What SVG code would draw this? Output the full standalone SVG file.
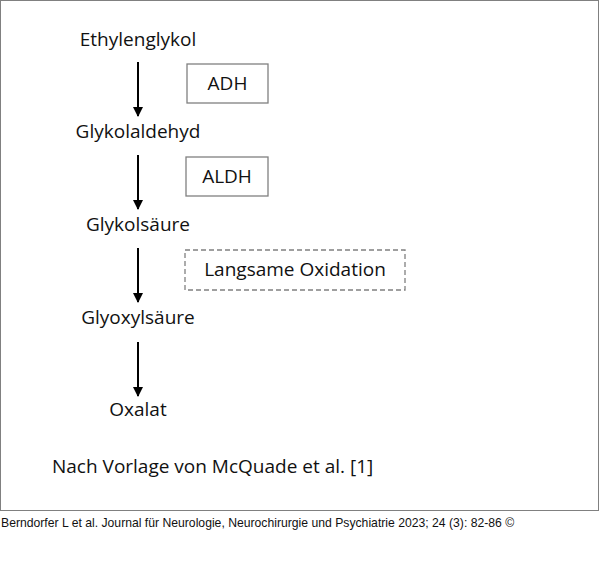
<svg xmlns="http://www.w3.org/2000/svg" width="600" height="573" viewBox="0 0 600 573">
<defs><marker id="ah" markerWidth="10" markerHeight="10" refX="9" refY="5" orient="auto" markerUnits="userSpaceOnUse"><path d="M0,0 L10,5 L0,10 Z" fill="#000"/></marker></defs>
<style>
.t{font-family:"Open Sans","Noto Sans",sans-serif;font-size:19px;fill:#111}
.b{fill:#fff;stroke:#808080;stroke-width:1.3}
.c{stroke:#000;stroke-width:2;marker-end:url(#ah)}
</style>
<rect x="0" y="0" width="600" height="573" fill="#fff"/>
<rect x="0.5" y="0.5" width="598" height="510" fill="none" stroke="#808080"/>
<g id="n1"><text class="t" x="138" y="46" text-anchor="middle">Ethylenglykol</text></g>
<g id="n2"><text class="t" x="138" y="138" text-anchor="middle">Glykolaldehyd</text></g>
<g id="n3"><text class="t" x="138" y="231" text-anchor="middle">Glykolsäure</text></g>
<g id="n4"><text class="t" x="138" y="324" text-anchor="middle">Glyoxylsäure</text></g>
<g id="n5"><text class="t" x="138" y="416" text-anchor="middle">Oxalat</text></g>
<g id="adh"><rect class="b" x="187" y="64" width="81" height="39"/><text class="t" x="227.5" y="90" text-anchor="middle">ADH</text></g>
<g id="aldh"><rect class="b" x="186" y="157" width="82" height="39"/><text class="t" x="227" y="183" text-anchor="middle">ALDH</text></g>
<g id="ox"><rect class="b" x="185" y="250" width="220" height="40" stroke-dasharray="5,3"/><text class="t" x="295" y="276" text-anchor="middle">Langsame Oxidation</text></g>
<g id="connectors">
<line class="c" x1="138" y1="62" x2="138" y2="116"/>
<line class="c" x1="138" y1="155" x2="138" y2="209"/>
<line class="c" x1="138" y1="248" x2="138" y2="302"/>
<line class="c" x1="138" y1="342" x2="138" y2="396"/>
</g>
<text class="t" x="52" y="473">Nach Vorlage von McQuade et al. [1]</text>
<text x="1" y="527" font-family="Liberation Sans,Arial,sans-serif" font-size="12.2" fill="#111">Berndorfer L et al. Journal für Neurologie, Neurochirurgie und Psychiatrie 2023; 24 (3): 82-86 ©</text>
</svg>
